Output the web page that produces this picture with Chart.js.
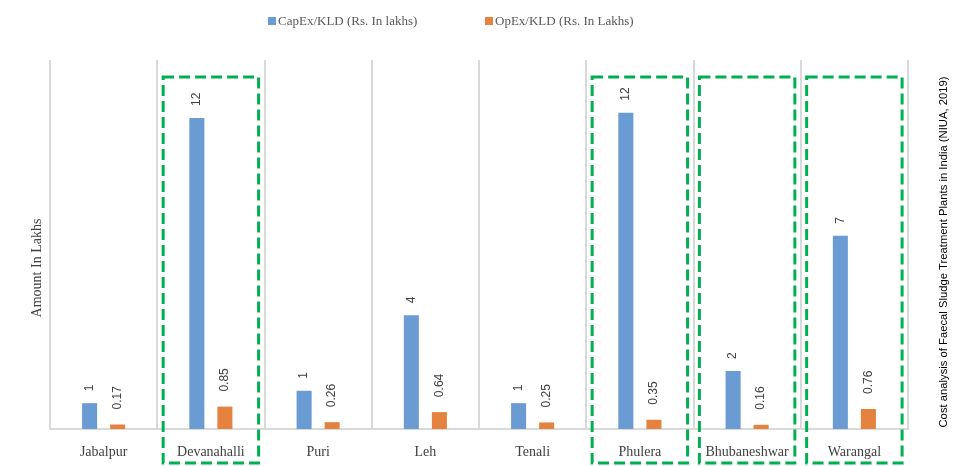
<!DOCTYPE html>
<html>
<head>
<meta charset="utf-8">
<script src="https://cdn.jsdelivr.net/npm/chart.js@4/dist/chart.umd.min.js"></script>
<style>
  html, body { margin: 0; padding: 0; background: #ffffff; }
  #wrap { width: 954px; height: 466px; position: relative; }
</style>
</head>
<body>
<div id="wrap"><canvas id="c" width="954" height="466"></canvas></div>
<script>
// ---- data ----
const categories = ["Jabalpur", "Devanahalli", "Puri", "Leh", "Tenali", "Phulera", "Bhubaneshwar", "Warangal"];
const capexValues = [0.98, 11.8, 1.45, 4.32, 0.98, 12.0, 2.2, 7.33];
const opexValues = [0.17, 0.85, 0.26, 0.64, 0.25, 0.35, 0.16, 0.76];
const seriesNames = ["CapEx/KLD (Rs. In lakhs)", "OpEx/KLD (Rs. In Lakhs)"];
const highlighted = ["Devanahalli", "Phulera", "Bhubaneshwar", "Warangal"];
const yAxisTitle = "Amount In Lakhs";
const sourceNote = "Cost analysis of Faecal Sludge Treatment Plants in India (NIUA, 2019)";

const BLUE = "#6a9bd3";
const ORANGE = "#e5823f";
const TEXT = "#404040";
const LEGEND_TEXT = "#595959";
const SERIF = "'Liberation Serif', 'Times New Roman', serif";
const SANS = "'Liberation Sans', Arial, sans-serif";

const labelFormat = [v => String(Math.round(v)), v => v.toFixed(2)];
const labelGap = [12, 15];

const extras = {
  id: "extras",
  afterDatasetsDraw(chart) {
    const ctx = chart.ctx;
    ctx.save();
    ctx.fillStyle = TEXT;
    ctx.font = "12px " + SANS;
    ctx.textAlign = "left";
    ctx.textBaseline = "middle";
    chart.data.datasets.forEach((ds, di) => {
      const meta = chart.getDatasetMeta(di);
      meta.data.forEach((el, i) => {
        ctx.save();
        ctx.translate(el.x, el.y - labelGap[di]);
        ctx.rotate(-Math.PI / 2);
        ctx.fillText(labelFormat[di](ds.data[i]), 0, 0);
        ctx.restore();
      });
    });
    ctx.restore();
  },
  afterDraw(chart) {
    const ctx = chart.ctx;
    const xs = chart.scales.x;
    const area = chart.chartArea;
    const catW = xs.width / categories.length;
    // highlight boxes
    ctx.save();
    ctx.strokeStyle = "#00b050";
    ctx.lineWidth = 3;
    ctx.setLineDash([11, 5]);
    highlighted.forEach(name => {
      const i = categories.indexOf(name);
      const cx = xs.getPixelForValue(i);
      const l = cx - 0.445 * catW, r = cx + 0.445 * catW;
      const t = area.top + 17, b = area.bottom + 34;
      ctx.strokeRect(l, t, r - l, b - t);
    });
    ctx.restore();

    // legend
    ctx.save();
    ctx.font = "13px " + SERIF;
    ctx.textBaseline = "middle";
    ctx.textAlign = "left";
    const legendX = [268, 485];
    const colors = [BLUE, ORANGE];
    seriesNames.forEach((s, k) => {
      ctx.fillStyle = colors[k];
      ctx.fillRect(legendX[k], 17, 8, 8);
      ctx.fillStyle = LEGEND_TEXT;
      ctx.fillText(s, legendX[k] + 10, 21.5);
    });
    ctx.restore();

    // y axis title
    ctx.save();
    ctx.font = "14px " + SERIF;
    ctx.fillStyle = TEXT;
    ctx.textAlign = "center";
    ctx.textBaseline = "middle";
    ctx.translate(37, 268);
    ctx.rotate(-Math.PI / 2);
    ctx.fillText(yAxisTitle, 0, 0);
    ctx.restore();

    // source note on the right
    ctx.save();
    ctx.font = "11.25px " + SANS;
    ctx.fillStyle = "#000000";
    ctx.textAlign = "center";
    ctx.textBaseline = "middle";
    ctx.translate(944, 252);
    ctx.rotate(-Math.PI / 2);
    ctx.fillText(sourceNote, 0, 0);
    ctx.restore();
  }
};

new Chart(document.getElementById("c"), {
  type: "bar",
  data: {
    labels: categories,
    datasets: [
      { label: seriesNames[0], data: capexValues, backgroundColor: BLUE, borderWidth: 0,
        categoryPercentage: 0.523, barPercentage: 0.536 },
      { label: seriesNames[1], data: opexValues, backgroundColor: ORANGE, borderWidth: 0,
        categoryPercentage: 0.523, barPercentage: 0.536 }
    ]
  },
  options: {
    responsive: false,
    animation: false,
    layout: { padding: { left: 50, top: 60, right: 46, bottom: 0 } },
    plugins: { legend: { display: false }, tooltip: { enabled: false } },
    scales: {
      x: {
        offset: true,
        grid: { display: true, offset: true, color: "#d9d9d9", lineWidth: 2, drawTicks: false },
        border: { display: true, color: "#d9d9d9", width: 2 },
        ticks: { color: TEXT, font: { family: SERIF, size: 14 }, padding: 15, maxRotation: 0, autoSkip: false },
        afterFit: s => { s.height = 37; }
      },
      y: {
        display: false,
        min: 0,
        max: 14
      }
    }
  },
  plugins: [extras]
});
</script>
</body>
</html>
